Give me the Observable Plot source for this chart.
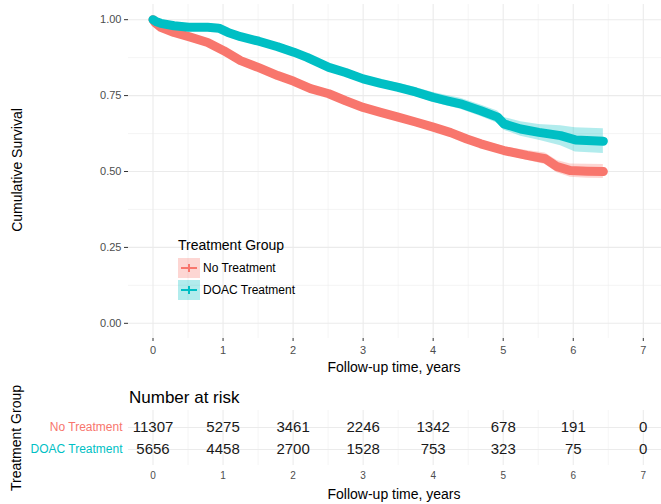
<!DOCTYPE html>
<html><head><meta charset="utf-8">
<script src="https://cdn.jsdelivr.net/npm/d3@7"></script>
<script src="https://cdn.jsdelivr.net/npm/@observablehq/plot@0.6"></script>
<style>
body{margin:0;background:#fff;font-family:"Liberation Sans",Arial,sans-serif;}
#wrap{position:relative;width:661px;height:504px;overflow:hidden;background:#fff;}
#wrap svg{position:absolute;left:0;}
.abs{position:absolute;white-space:nowrap;line-height:1;}
.rot{transform:translate(-50%,-50%) rotate(-90deg);}
.key{position:absolute;width:22px;height:20px;}
.key .h{position:absolute;left:3px;right:3px;top:9px;height:2px;}
.key .v{position:absolute;left:10px;width:2px;top:6px;height:8px;}
</style></head><body><div id="wrap"></div>
<script>
// ---- data ----
const groups = ["No Treatment", "DOAC Treatment"];
const groupColors = ["#F8766D", "#00BFC4"];

const noTxTime = [0, 0.03, 0.11, 0.3, 0.51, 0.78, 1.01, 1.25, 1.51, 1.78, 2.01, 2.25, 2.51, 2.75, 3.0, 3.25, 3.5, 3.75, 4.0, 4.25, 4.48, 4.68, 5.01, 5.34, 5.6, 5.77, 5.96, 6.2, 6.43];
const noTxSurv = [1.0, 0.99, 0.975, 0.958, 0.944, 0.925, 0.898, 0.865, 0.842, 0.816, 0.797, 0.773, 0.756, 0.733, 0.711, 0.695, 0.679, 0.663, 0.646, 0.628, 0.607, 0.591, 0.569, 0.553, 0.542, 0.516, 0.503, 0.501, 0.50];
const noTxCI   = [0, 0.001, 0.002, 0.003, 0.003, 0.004, 0.004, 0.005, 0.005, 0.005, 0.006, 0.006, 0.006, 0.007, 0.007, 0.008, 0.008, 0.009, 0.009, 0.01, 0.011, 0.012, 0.013, 0.016, 0.019, 0.02, 0.022, 0.023, 0.023];

const doacTime = [0, 0.05, 0.11, 0.3, 0.51, 0.78, 0.94, 1.07, 1.25, 1.51, 1.78, 2.01, 2.2, 2.51, 2.75, 3.0, 3.25, 3.5, 3.75, 4.0, 4.2, 4.39, 4.68, 4.92, 5.01, 5.25, 5.51, 5.82, 6.03, 6.43];
const doacSurv = [1.0, 0.993, 0.988, 0.980, 0.975, 0.975, 0.972, 0.958, 0.944, 0.929, 0.911, 0.893, 0.876, 0.843, 0.826, 0.805, 0.79, 0.777, 0.762, 0.744, 0.733, 0.723, 0.70, 0.679, 0.657, 0.640, 0.629, 0.618, 0.604, 0.600];
const doacCI   = [0, 0.001, 0.002, 0.003, 0.003, 0.004, 0.004, 0.005, 0.005, 0.006, 0.006, 0.007, 0.008, 0.009, 0.01, 0.011, 0.012, 0.014, 0.015, 0.016, 0.017, 0.018, 0.019, 0.02, 0.021, 0.024, 0.026, 0.033, 0.04, 0.041];

const riskTimes = [0, 1, 2, 3, 4, 5, 6, 7];
const riskNoTx = [11307, 5275, 3461, 2246, 1342, 678, 191, 0];
const riskDoac = [5656, 4458, 2700, 1528, 753, 323, 75, 0];

const xTicks = [0, 1, 2, 3, 4, 5, 6, 7];
const yTicks = [0, 0.25, 0.5, 0.75, 1.0];

// ---- tables ----
const curve = [];
noTxTime.forEach((t, i) => curve.push({time: t, surv: noTxSurv[i], lo: noTxSurv[i] - noTxCI[i], hi: noTxSurv[i] + noTxCI[i], group: groups[0]}));
doacTime.forEach((t, i) => curve.push({time: t, surv: doacSurv[i], lo: doacSurv[i] - doacCI[i], hi: doacSurv[i] + doacCI[i], group: groups[1]}));
const risk = [];
riskTimes.forEach((t, i) => {
  risk.push({time: t, group: groups[0], n: riskNoTx[i]});
  risk.push({time: t, group: groups[1], n: riskDoac[i]});
});

const font = "Liberation Sans, Arial, sans-serif";
const minorX = d3.range(0.5, 7, 1);
const minorY = [0.125, 0.375, 0.625, 0.875];
const gridMajor = {stroke: "#EBEBEB", strokeOpacity: 1, strokeWidth: 1.1};
const gridMinor = {stroke: "#EFEFEF", strokeOpacity: 1, strokeWidth: 0.6};
const xDomain = [-0.35, 7.26];

const topPlot = Plot.plot({
  width: 661, height: 375,
  marginLeft: 128, marginRight: 0, marginTop: 4, marginBottom: 37,
  style: {fontFamily: font, background: "transparent", overflow: "visible"},
  x: {domain: xDomain},
  y: {domain: [-0.05, 1.05]},
  color: {domain: groups, range: groupColors},
  marks: [
    Plot.gridX(minorX, gridMinor),
    Plot.gridY(minorY, gridMinor),
    Plot.gridX(xTicks, gridMajor),
    Plot.gridY(yTicks, gridMajor),
    Plot.areaY(curve, {x: "time", y1: "lo", y2: "hi", z: "group", fill: "group", fillOpacity: 0.3}),
    Plot.lineY(curve, {x: "time", y: "surv", z: "group", stroke: "group", strokeWidth: 9}),
    Plot.axisX({ticks: xTicks, tickSize: 3, tickPadding: 5, fontSize: 11, fill: "#4D4D4D", stroke: "#333", label: null}),
    Plot.axisY({ticks: yTicks, tickFormat: d3.format(".2f"), tickSize: 4, tickPadding: 3, fontSize: 11, fill: "#4D4D4D", stroke: "#333", label: null})
  ]
});
topPlot.style.top = "0px";

const riskPlot = Plot.plot({
  width: 661, height: 129,
  marginLeft: 128, marginRight: 0, marginTop: 35, marginBottom: 39,
  style: {fontFamily: font, background: "transparent", overflow: "visible"},
  x: {domain: xDomain},
  y: {type: "point", domain: groups, padding: 0.7},
  marks: [
    Plot.gridX(minorX, gridMinor),
    Plot.gridX(xTicks, gridMajor),
    Plot.gridY(groups, gridMajor),
    Plot.text(risk, {x: "time", y: "group", text: d => String(d.n), fontSize: 15, fill: "#1a1a1a"}),
    Plot.axisX({ticks: xTicks, tickSize: 0, tickPadding: 6, fontSize: 10, fill: "#4D4D4D", label: null}),
    Plot.axisY({tickSize: 0, tickPadding: 6, fontSize: 12, fill: d => groupColors[groups.indexOf(d)], label: null})
  ]
});
riskPlot.style.top = "375px";

const wrap = document.getElementById("wrap");
wrap.appendChild(topPlot);
wrap.appendChild(riskPlot);

function addText(txt, css, cls) {
  const d = document.createElement("div");
  d.className = "abs" + (cls ? " " + cls : "");
  d.textContent = txt;
  Object.assign(d.style, css);
  wrap.appendChild(d);
  return d;
}
addText("Follow-up time, years", {left: "394px", top: "360px", fontSize: "14px", color: "#000", transform: "translateX(-50%)"});
addText("Cumulative Survival", {left: "17px", top: "170px", fontSize: "14px", color: "#000"}, "rot");
addText("Number at risk", {left: "129px", top: "389px", fontSize: "17px", color: "#000"});
addText("Follow-up time, years", {left: "394px", top: "487px", fontSize: "14px", color: "#000", transform: "translateX(-50%)"});
addText("Treatment Group", {left: "16px", top: "438px", fontSize: "14px", color: "#000"}, "rot");

// legend
addText("Treatment Group", {left: "178px", top: "238px", fontSize: "14px", color: "#000"});
groups.forEach((g, i) => {
  const k = document.createElement("div");
  k.className = "key";
  k.style.left = "178px";
  k.style.top = (258 + i * 22) + "px";
  k.style.background = d3.color(groupColors[i]).copy({opacity: 0.3}).formatRgb();
  k.innerHTML = `<div class="h" style="background:${groupColors[i]}"></div><div class="v" style="background:${groupColors[i]}"></div>`;
  wrap.appendChild(k);
  addText(g, {left: "203px", top: (262 + i * 22) + "px", fontSize: "12px", color: "#000"});
});
</script></body></html>
